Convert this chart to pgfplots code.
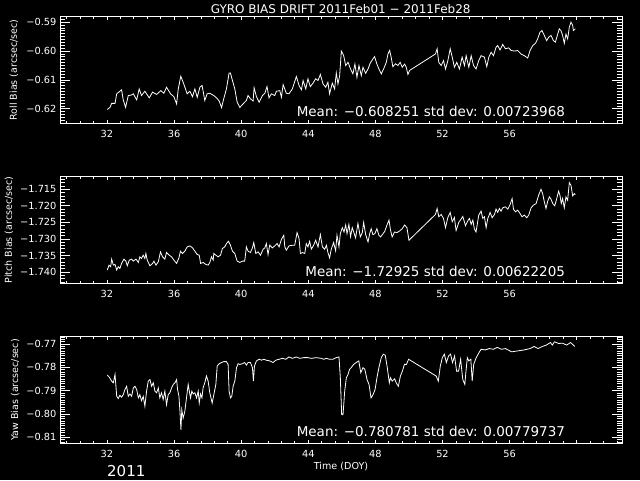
\documentclass[border=0pt]{standalone}
\usepackage{pgfplots}
\pgfplotsset{compat=1.18}
\usepackage{fontspec}
\setmainfont{DejaVu Sans}

\pgfplotstableread{
x y
32.02 -0.6202
32.18 -0.6195
32.28 -0.6181
32.48 -0.6181
32.58 -0.6148
32.77 -0.6139
32.87 -0.6134
32.97 -0.6169
33.11 -0.6195
33.27 -0.6154
33.47 -0.6152
33.57 -0.6148
33.77 -0.6169
33.92 -0.6131
34.06 -0.6154
34.26 -0.6139
34.52 -0.6162
34.72 -0.6142
34.96 -0.6150
35.21 -0.6137
35.39 -0.6146
35.55 -0.6125
35.79 -0.6148
35.99 -0.6158
36.15 -0.6183
36.25 -0.6131
36.40 -0.6087
36.58 -0.6114
36.78 -0.6148
36.94 -0.6139
37.10 -0.6158
37.24 -0.6131
37.38 -0.6160
37.54 -0.6125
37.67 -0.6119
37.83 -0.6171
37.97 -0.6148
38.13 -0.6146
38.37 -0.6154
38.53 -0.6162
38.69 -0.6173
38.83 -0.6196
38.96 -0.6165
39.12 -0.6131
39.28 -0.6076
39.36 -0.6076
39.48 -0.6102
39.62 -0.6131
39.76 -0.6177
39.92 -0.6195
40.11 -0.6183
40.31 -0.6171
40.41 -0.6154
40.55 -0.6165
40.71 -0.6173
40.77 -0.6127
40.91 -0.6158
41.07 -0.6177
41.27 -0.6154
41.41 -0.6146
41.54 -0.6123
41.66 -0.6162
41.80 -0.6148
42.00 -0.6154
42.10 -0.6139
42.30 -0.6137
42.40 -0.6160
42.50 -0.6116
42.69 -0.6146
42.85 -0.6148
43.05 -0.6131
43.29 -0.6088
43.45 -0.6119
43.59 -0.6134
43.69 -0.6102
43.85 -0.6131
43.98 -0.6096
44.12 -0.6123
44.28 -0.6111
44.44 -0.6096
44.58 -0.6102
44.72 -0.6081
44.88 -0.6114
45.04 -0.6125
45.17 -0.6108
45.27 -0.6148
45.43 -0.6111
45.57 -0.6131
45.67 -0.6076
45.77 -0.6114
45.87 -0.6085
45.97 -0.6000
46.11 -0.6016
46.23 -0.6050
46.37 -0.6039
46.52 -0.6062
46.66 -0.6079
46.78 -0.6045
46.90 -0.6091
47.02 -0.6050
47.16 -0.6085
47.26 -0.6056
47.42 -0.6077
47.56 -0.6062
47.69 -0.6042
47.81 -0.6031
47.95 -0.6019
48.09 -0.6045
48.21 -0.6062
48.35 -0.6079
48.49 -0.6062
48.65 -0.6039
48.75 -0.6010
48.85 -0.5998
48.94 -0.6021
49.04 -0.6054
49.20 -0.6044
49.34 -0.6050
49.48 -0.6039
49.60 -0.6056
49.74 -0.6045
49.84 -0.6056
49.94 -0.6081
50.04 -0.6067
51.58 -0.6010
51.68 -0.5992
51.78 -0.6039
51.92 -0.6050
52.06 -0.6033
52.18 -0.6062
52.32 -0.6033
52.46 -0.5992
52.58 -0.6021
52.71 -0.6056
52.85 -0.6039
53.01 -0.6062
53.17 -0.6021
53.31 -0.6050
53.41 -0.6016
53.57 -0.6056
53.71 -0.6016
53.85 -0.6050
54.00 -0.6062
54.16 -0.6033
54.30 -0.6016
54.50 -0.6021
54.64 -0.6054
54.76 -0.6021
54.90 -0.6004
55.04 -0.6016
55.19 -0.5987
55.29 -0.5981
55.43 -0.5996
55.59 -0.5977
55.75 -0.5992
55.95 -0.5989
56.09 -0.5998
56.29 -0.6000
56.48 -0.5998
56.68 -0.6010
56.88 -0.6016
57.08 -0.6024
57.22 -0.5998
57.38 -0.5981
57.54 -0.5973
57.67 -0.5958
57.81 -0.5935
57.93 -0.5929
58.07 -0.5946
58.21 -0.5964
58.33 -0.5952
58.47 -0.5946
58.61 -0.5964
58.73 -0.5969
58.87 -0.5941
58.96 -0.5923
59.06 -0.5929
59.16 -0.5946
59.26 -0.5973
59.36 -0.5941
59.46 -0.5958
59.56 -0.5917
59.66 -0.5900
59.76 -0.5911
59.80 -0.5929
59.92 -0.5923
}\rolldata

\pgfplotstableread{
x y
32.02 -1.7394
32.12 -1.7379
32.22 -1.7384
32.28 -1.7361
32.38 -1.7379
32.48 -1.7377
32.58 -1.7394
32.67 -1.7384
32.77 -1.7389
32.87 -1.7374
33.01 -1.7361
33.13 -1.7367
33.21 -1.7381
33.33 -1.7364
33.47 -1.7361
33.57 -1.7367
33.73 -1.7361
33.87 -1.7371
33.96 -1.7354
34.06 -1.7359
34.16 -1.7349
34.26 -1.7359
34.32 -1.7344
34.40 -1.7364
34.56 -1.7381
34.72 -1.7374
34.80 -1.7367
34.92 -1.7379
35.06 -1.7369
35.19 -1.7339
35.31 -1.7354
35.45 -1.7361
35.55 -1.7341
35.71 -1.7349
35.85 -1.7354
35.99 -1.7364
36.15 -1.7374
36.29 -1.7357
36.38 -1.7337
36.50 -1.7344
36.64 -1.7337
36.78 -1.7324
36.94 -1.7321
37.10 -1.7327
37.24 -1.7337
37.38 -1.7347
37.50 -1.7349
37.58 -1.7374
37.73 -1.7371
37.89 -1.7377
38.03 -1.7379
38.13 -1.7371
38.23 -1.7354
38.33 -1.7364
38.37 -1.7344
38.49 -1.7349
38.63 -1.7354
38.77 -1.7349
38.88 -1.7329
39.02 -1.7324
39.12 -1.7314
39.24 -1.7307
39.36 -1.7319
39.48 -1.7337
39.62 -1.7344
39.76 -1.7367
39.92 -1.7371
40.08 -1.7367
40.21 -1.7367
40.31 -1.7324
40.41 -1.7337
40.55 -1.7341
40.67 -1.7327
40.75 -1.7311
40.87 -1.7344
41.01 -1.7339
41.15 -1.7349
41.31 -1.7331
41.41 -1.7327
41.50 -1.7314
41.60 -1.7347
41.70 -1.7319
41.86 -1.7327
42.00 -1.7321
42.14 -1.7314
42.26 -1.7324
42.40 -1.7301
42.54 -1.7289
42.60 -1.7324
42.69 -1.7334
42.85 -1.7321
43.05 -1.7319
43.19 -1.7319
43.33 -1.7281
43.45 -1.7299
43.53 -1.7344
43.65 -1.7341
43.79 -1.7344
43.88 -1.7314
43.98 -1.7324
44.08 -1.7307
44.18 -1.7331
44.32 -1.7319
44.44 -1.7304
44.58 -1.7324
44.72 -1.7287
44.84 -1.7324
44.98 -1.7331
45.08 -1.7319
45.17 -1.7341
45.27 -1.7357
45.37 -1.7331
45.51 -1.7311
45.63 -1.7336
45.71 -1.7289
45.83 -1.7324
45.91 -1.7284
46.03 -1.7266
46.13 -1.7279
46.23 -1.7258
46.31 -1.7284
46.42 -1.7256
46.52 -1.7293
46.62 -1.7266
46.72 -1.7281
46.82 -1.7297
46.96 -1.7253
47.10 -1.7294
47.22 -1.7281
47.30 -1.7250
47.42 -1.7287
47.56 -1.7309
47.66 -1.7284
47.75 -1.7269
47.85 -1.7287
47.97 -1.7284
48.09 -1.7269
48.21 -1.7289
48.31 -1.7294
48.41 -1.7287
48.55 -1.7278
48.69 -1.7258
48.81 -1.7243
48.90 -1.7273
49.00 -1.7294
49.14 -1.7279
49.28 -1.7281
49.44 -1.7276
49.60 -1.7269
49.74 -1.7258
49.88 -1.7266
50.00 -1.7304
51.58 -1.7226
51.68 -1.7208
51.78 -1.7233
51.92 -1.7226
52.06 -1.7238
52.18 -1.7266
52.32 -1.7235
52.46 -1.7220
52.58 -1.7248
52.71 -1.7235
52.81 -1.7275
52.97 -1.7250
53.11 -1.7240
53.21 -1.7232
53.37 -1.7260
53.51 -1.7245
53.61 -1.7238
53.71 -1.7256
53.81 -1.7243
53.90 -1.7270
54.00 -1.7279
54.16 -1.7228
54.30 -1.7216
54.40 -1.7238
54.50 -1.7233
54.60 -1.7266
54.70 -1.7238
54.84 -1.7220
54.96 -1.7236
55.10 -1.7226
55.19 -1.7210
55.29 -1.7220
55.39 -1.7208
55.49 -1.7216
55.59 -1.7206
55.75 -1.7203
55.89 -1.7210
56.03 -1.7196
56.15 -1.7178
56.23 -1.7210
56.35 -1.7218
56.48 -1.7213
56.58 -1.7220
56.74 -1.7233
56.88 -1.7228
57.02 -1.7236
57.14 -1.7228
57.28 -1.7206
57.42 -1.7198
57.58 -1.7193
57.73 -1.7168
57.87 -1.7150
57.97 -1.7163
58.07 -1.7188
58.17 -1.7208
58.27 -1.7186
58.37 -1.7173
58.47 -1.7180
58.57 -1.7193
58.69 -1.7200
58.81 -1.7178
58.92 -1.7156
59.00 -1.7168
59.08 -1.7193
59.16 -1.7178
59.26 -1.7206
59.36 -1.7173
59.46 -1.7183
59.56 -1.7130
59.66 -1.7138
59.76 -1.7170
59.86 -1.7163
59.92 -1.7166
}\pitchdata

\pgfplotstableread{
x y
32.02 -0.7833
32.14 -0.7842
32.28 -0.7859
32.38 -0.7866
32.48 -0.7830
32.58 -0.7924
32.67 -0.7934
32.77 -0.7920
32.87 -0.7928
32.97 -0.7917
33.07 -0.7895
33.17 -0.7881
33.27 -0.7924
33.37 -0.7914
33.47 -0.7924
33.57 -0.7888
33.67 -0.7881
33.77 -0.7895
33.87 -0.7931
33.96 -0.7917
34.06 -0.7943
34.16 -0.7924
34.26 -0.7967
34.36 -0.7902
34.46 -0.7859
34.56 -0.7852
34.66 -0.7881
34.76 -0.7866
34.86 -0.7902
34.96 -0.7909
35.06 -0.7888
35.15 -0.7931
35.25 -0.7909
35.35 -0.7938
35.45 -0.7902
35.55 -0.7960
35.65 -0.7917
35.75 -0.7909
35.85 -0.7888
35.95 -0.7873
36.05 -0.7866
36.15 -0.7852
36.21 -0.7895
36.29 -0.7924
36.35 -0.7989
36.41 -0.8068
36.46 -0.7982
36.54 -0.8018
36.64 -0.7989
36.74 -0.7931
36.84 -0.7873
36.90 -0.7899
36.98 -0.7931
37.06 -0.7902
37.14 -0.7914
37.24 -0.7909
37.34 -0.7931
37.44 -0.7902
37.50 -0.7953
37.58 -0.7914
37.66 -0.7931
37.73 -0.7888
37.83 -0.7866
37.93 -0.7837
38.03 -0.7859
38.13 -0.7909
38.27 -0.7953
38.37 -0.7917
38.49 -0.7873
38.57 -0.7794
38.69 -0.7784
38.83 -0.7779
38.96 -0.7775
39.12 -0.7775
39.22 -0.7787
39.28 -0.7902
39.36 -0.7931
39.44 -0.7924
39.52 -0.7881
39.62 -0.7859
39.72 -0.7801
39.82 -0.7784
39.92 -0.7787
40.08 -0.7784
40.21 -0.7779
40.31 -0.7790
40.41 -0.7779
40.55 -0.7779
40.67 -0.7801
40.73 -0.7859
40.79 -0.7794
40.91 -0.7772
41.07 -0.7765
41.21 -0.7769
41.35 -0.7765
41.50 -0.7769
41.70 -0.7772
41.90 -0.7779
42.06 -0.7769
42.26 -0.7765
42.46 -0.7761
42.66 -0.7765
42.85 -0.7755
43.05 -0.7761
43.29 -0.7755
43.49 -0.7761
43.73 -0.7758
43.98 -0.7758
44.18 -0.7761
44.48 -0.7758
44.78 -0.7761
44.92 -0.7765
45.08 -0.7761
45.27 -0.7765
45.47 -0.7765
45.67 -0.7758
45.83 -0.7755
45.91 -0.7844
45.99 -0.8003
46.07 -0.8003
46.17 -0.7902
46.27 -0.7844
46.37 -0.7830
46.46 -0.7808
46.56 -0.7801
46.70 -0.7787
46.86 -0.7779
47.01 -0.7772
47.13 -0.7823
47.26 -0.7801
47.37 -0.7808
47.50 -0.7852
47.62 -0.7873
47.74 -0.7931
47.86 -0.7917
47.98 -0.7895
48.11 -0.7837
48.23 -0.7794
48.35 -0.7758
48.47 -0.7743
48.59 -0.7748
48.71 -0.7801
48.83 -0.7866
48.90 -0.7844
49.00 -0.7859
49.15 -0.7849
49.24 -0.7866
49.37 -0.7881
49.49 -0.7837
49.61 -0.7816
49.73 -0.7787
49.85 -0.7787
49.98 -0.7765
51.62 -0.7837
51.75 -0.7859
51.87 -0.7794
51.99 -0.7758
52.11 -0.7743
52.23 -0.7779
52.36 -0.7751
52.48 -0.7743
52.60 -0.7779
52.72 -0.7751
52.84 -0.7816
52.96 -0.7816
53.08 -0.7765
53.21 -0.7852
53.33 -0.7873
53.40 -0.7816
53.48 -0.7758
53.57 -0.7772
53.69 -0.7765
53.77 -0.7859
53.86 -0.7787
54.01 -0.7758
54.18 -0.7736
54.30 -0.7722
54.54 -0.7725
54.79 -0.7719
55.03 -0.7722
55.27 -0.7714
55.51 -0.7722
55.76 -0.7719
56.12 -0.7733
56.49 -0.7729
56.85 -0.7725
57.22 -0.7719
57.46 -0.7710
57.70 -0.7719
57.95 -0.7710
58.19 -0.7704
58.43 -0.7693
58.55 -0.7704
58.67 -0.7690
58.92 -0.7697
59.16 -0.7696
59.40 -0.7704
59.64 -0.7693
59.88 -0.7710
}\yawdata

\pgfplotsset{
  gyro/.style={
    scale only axis, width=562pt, height=106.6pt, anchor=south west,
    axis line style={white, line width=1pt},
    xmin=29.2, xmax=62.7,
    xtick={32,36,...,60},
    xticklabels={32,36,40,44,48,52,56,{}},
    minor xtick={29.6,30.4,...,62.4},
    tick align=inside,
    ticklabel style={white, font=\fontsize{9.8}{10}\selectfont},
    xticklabel style={yshift=-3.3pt},
    tick style={white, line width=0.8pt},
    xtick style={/pgfplots/major tick length=3pt,/pgfplots/minor tick length=2pt},
    ytick style={/pgfplots/major tick length=10pt,/pgfplots/minor tick length=5pt},
    ylabel style={white, font=\fontsize{9.5}{10}\selectfont, anchor=center, rotate=0},
    xlabel style={white, font=\fontsize{9.6}{10}\selectfont},
  },
}
\tikzset{meantext/.style={white, anchor=base east, font=\fontsize{13.5}{14}\selectfont, inner sep=0pt}}

\begin{document}
\begin{tikzpicture}[x=1pt,y=1pt]
\fill[black] (0,0) rectangle (640,480);
\useasboundingbox (0,0) rectangle (640,480);

\begin{axis}[gyro, at={(60pt,356.7pt)},
  ymin=-0.625, ymax=-0.5881,
  ytick={-0.62,-0.61,-0.60,-0.59},
  yticklabels={−0.62,−0.61,−0.60,−0.59},
  minor ytick={-0.624,-0.623,...,-0.589},
  ylabel={Roll Bias (arcsec/sec)},
  ylabel style={at={(axis description cs:-0.082,0.5)}}]
\addplot[white, line width=0.8pt] table[x=x,y=y] {\rolldata};
\node[meantext] at (rel axis cs:0.899,0.062) {Mean: −0.608251 std dev: 0.00723968};
\end{axis}

\begin{axis}[gyro, at={(60pt,196.7pt)},
  ymin=-1.7434, ymax=-1.7112,
  ytick={-1.740,-1.735,-1.730,-1.725,-1.720,-1.715},
  yticklabels={−1.740,−1.735,−1.730,−1.725,−1.720,−1.715},
  minor ytick={-1.743,-1.742,...,-1.712},
  ylabel={Pitch Bias (arcsec/sec)},
  ylabel style={at={(axis description cs:-0.091,0.5)}}]
\addplot[white, line width=0.8pt] table[x=x,y=y] {\pitchdata};
\node[meantext] at (rel axis cs:0.899,0.062) {Mean: −1.72925 std dev: 0.00622205};
\end{axis}

\begin{axis}[gyro, at={(60pt,36.7pt)},
  ymin=-0.8126, ymax=-0.7668,
  ytick={-0.81,-0.80,-0.79,-0.78,-0.77},
  yticklabels={−0.81,−0.80,−0.79,−0.78,−0.77},
  minor ytick={-0.812,-0.811,...,-0.767},
  ylabel={Yaw Bias (arcsec/sec)},
  ylabel style={at={(axis description cs:-0.080,0.5)}},
  xlabel={Time (DOY)},
  xlabel style={at={(axis description cs:0.5,-0.213)}, anchor=center}]
\addplot[white, line width=0.8pt] table[x=x,y=y] {\yawdata};
\node[meantext] at (rel axis cs:0.899,0.062) {Mean: −0.780781 std dev: 0.00779737};
\end{axis}

\node[white, anchor=base, font=\fontsize{12}{13}\selectfont, inner sep=0pt] at (340.7,466.7) {GYRO BIAS DRIFT 2011Feb01 − 2011Feb28};
\node[white, anchor=base west, font=\fontsize{15}{16}\selectfont, inner sep=0pt] at (107,3.5) {2011};
\end{tikzpicture}
\end{document}
